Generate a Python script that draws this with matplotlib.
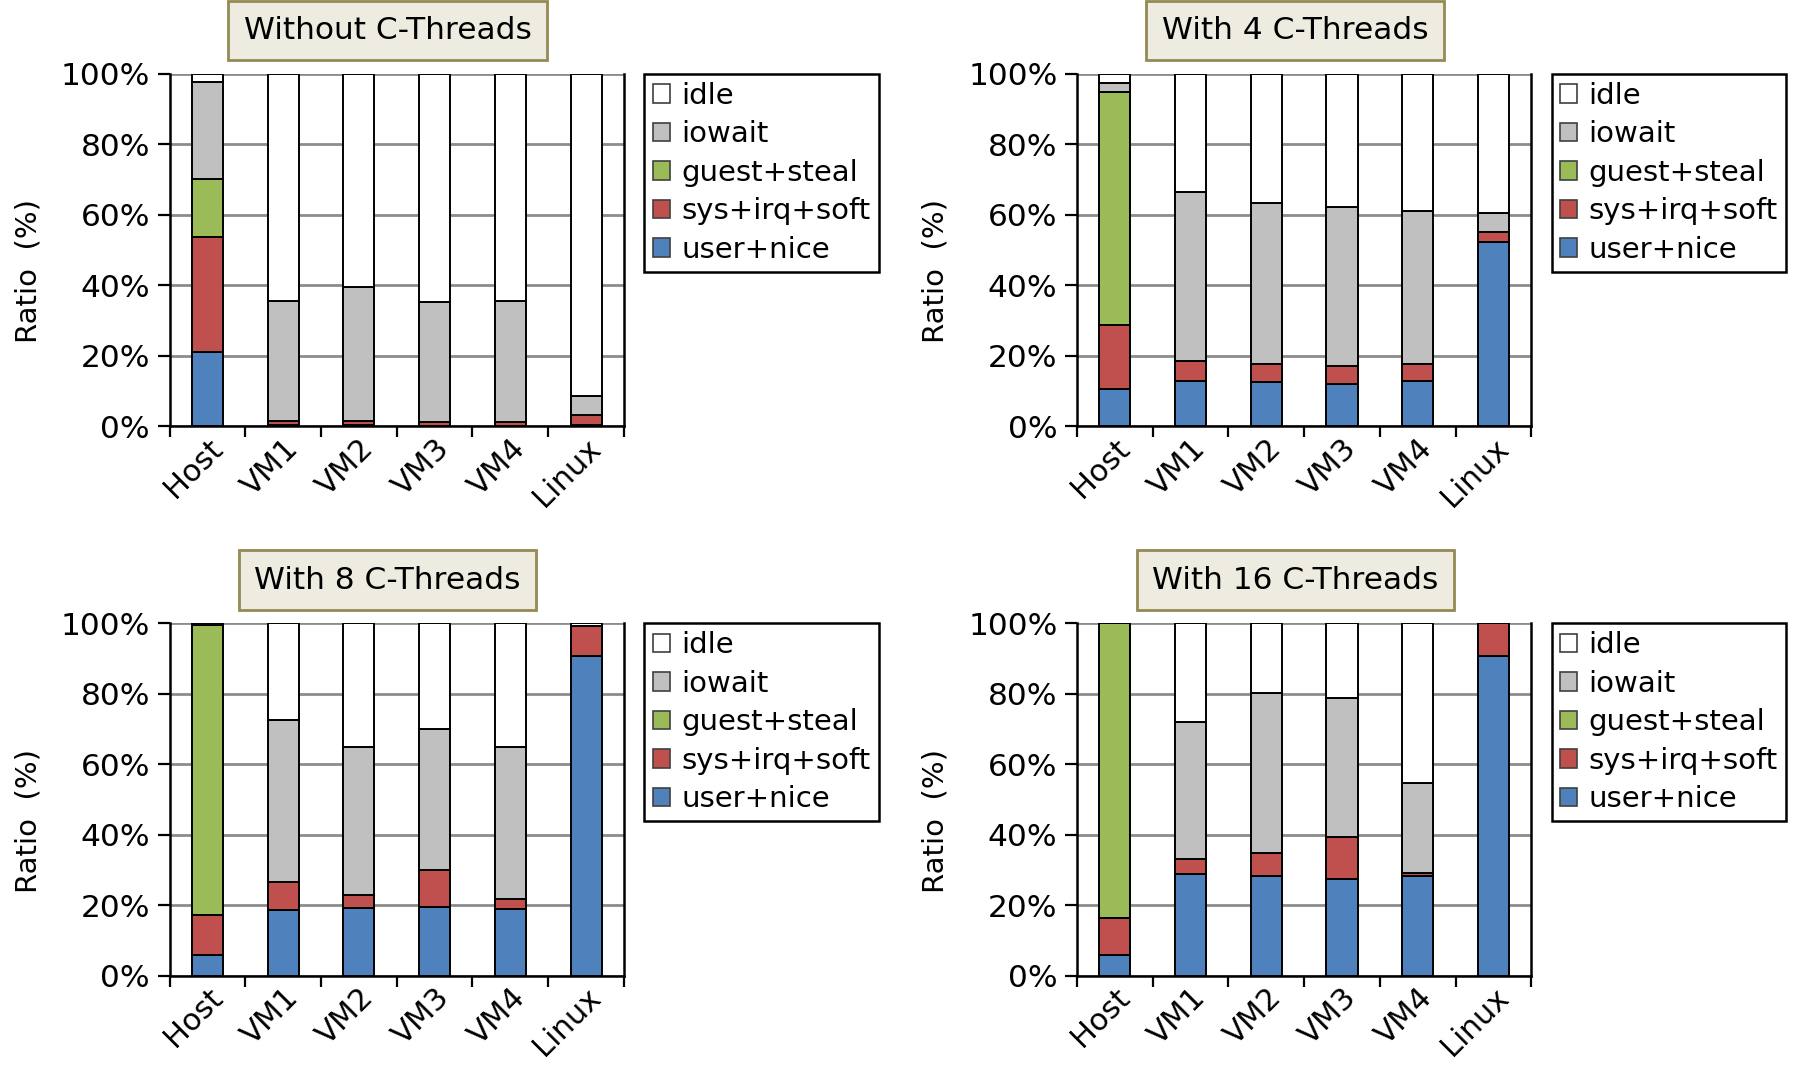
import numpy as np
import matplotlib
matplotlib.use("Agg")
import matplotlib.pyplot as plt
from matplotlib.patches import Patch
from matplotlib.transforms import ScaledTranslation

# ---------- data (percent of CPU time) ----------
categories = ["Host", "VM1", "VM2", "VM3", "VM4", "Linux"]
titles = ["Without C-Threads", "With 4 C-Threads", "With 8 C-Threads", "With 16 C-Threads"]
series_names = ["user+nice", "sys+irq+soft", "guest+steal", "iowait", "idle"]

# without C-Threads
user_0 = [21.1, 0.3, 0.3, 0.2, 0.2, 0.3]
sys_0 = [32.5, 1.1, 1.3, 1.0, 1.0, 2.8]
guest_0 = [16.4, 0, 0, 0, 0, 0]
iowait_0 = [27.6, 34.2, 37.8, 34.0, 34.2, 5.6]
idle_0 = [2.4, 64.4, 60.6, 64.8, 64.6, 91.3]

# with 4 C-Threads
user_4 = [10.5, 12.8, 12.6, 12.1, 12.9, 52.3]
sys_4 = [18.1, 5.8, 5.0, 5.1, 4.7, 2.8]
guest_4 = [66.1, 0, 0, 0, 0, 0]
iowait_4 = [2.5, 47.7, 45.8, 45.0, 43.5, 5.5]
idle_4 = [2.8, 33.7, 36.6, 37.8, 38.9, 39.4]

# with 8 C-Threads
user_8 = [5.9, 18.7, 19.3, 19.4, 19.0, 90.8]
sys_8 = [11.4, 7.8, 3.5, 10.6, 2.7, 8.5]
guest_8 = [82.2, 0, 0, 0, 0, 0]
iowait_8 = [0, 46.1, 42.2, 39.9, 43.3, 0]
idle_8 = [0.5, 27.4, 35.0, 30.1, 35.0, 0.7]

# with 16 C-Threads
user_16 = [6.0, 28.8, 28.4, 27.5, 28.2, 90.7]
sys_16 = [10.5, 4.3, 6.3, 11.8, 0.9, 9.3]
guest_16 = [83.5, 0, 0, 0, 0, 0]
iowait_16 = [0, 38.9, 45.6, 39.6, 25.7, 0]
idle_16 = [0, 28.0, 19.7, 21.1, 45.2, 0]

panels = [
    [user_0, sys_0, guest_0, iowait_0, idle_0],
    [user_4, sys_4, guest_4, iowait_4, idle_4],
    [user_8, sys_8, guest_8, iowait_8, idle_8],
    [user_16, sys_16, guest_16, iowait_16, idle_16],
]

colors = ["#4F81BD", "#C0504D", "#9BBB59", "#C0C0C0", "#FFFFFF"]

plt.rcParams["font.family"] = "DejaVu Sans"

fig = plt.figure(figsize=(17.94, 10.66), dpi=100)
axes_rects = [
    [0.0945, 0.600, 0.2533, 0.331],
    [0.6003, 0.600, 0.2533, 0.331],
    [0.0945, 0.0845, 0.2533, 0.331],
    [0.6003, 0.0845, 0.2533, 0.331],
]

x = np.arange(len(categories)) + 0.5
shift = ScaledTranslation(-16 / 100, 0, fig.dpi_scale_trans)
for rect, data, title in zip(axes_rects, panels, titles):
    ax = fig.add_axes(rect)
    bottom = np.zeros(len(categories))
    for vals, c in zip(data, colors):
        vals = np.array(vals, dtype=float)
        ax.bar(x, vals, width=0.41, bottom=bottom, color=c, edgecolor="black",
               linewidth=1.4, zorder=3)
        bottom += vals
    ax.set_xlim(0, len(categories))
    ax.set_ylim(0, 100)
    ax.set_yticks(range(0, 101, 20))
    ax.set_yticklabels([f"{v}%" for v in range(0, 101, 20)], fontsize=22.5)
    ax.yaxis.grid(True, color="#8C8C8C", linewidth=2, zorder=0)
    ax.set_axisbelow(True)
    ax.set_xticks(x)
    ax.set_xticklabels(categories, rotation=45, ha="right", rotation_mode="anchor",
                       fontsize=22)
    for lbl in ax.get_xticklabels():
        lbl.set_transform(lbl.get_transform() + shift)
    ax.set_xticks(np.arange(len(categories) + 1), minor=True)
    ax.tick_params(axis="x", which="major", length=0, pad=5)
    ax.tick_params(axis="x", which="minor", length=8, width=1.6, direction="out")
    ax.tick_params(axis="y", length=9, width=1.6, direction="out", pad=5)
    ax.spines["top"].set_visible(False)
    for s in ["left", "right", "bottom"]:
        ax.spines[s].set_linewidth(1.8)
    ax.set_ylabel("Ratio  (%)", fontsize=21)
    ax.yaxis.set_label_coords(-0.28, 0.44)

    handles = [Patch(facecolor=c, edgecolor="#404040", linewidth=1.2)
               for c in colors[::-1]]
    leg = ax.legend(handles, series_names[::-1], loc="upper left",
                    bbox_to_anchor=(1.045, 1.0), borderaxespad=0, fancybox=False,
                    edgecolor="black", framealpha=1, handlelength=0.6,
                    handleheight=0.6, handletextpad=0.38, labelspacing=0.36,
                    borderpad=0.28, prop=dict(size=21))
    leg.get_frame().set_linewidth(1.8)

    ax.text(0.48, 1.122, title, transform=ax.transAxes, ha="center", va="center",
            fontsize=22.5,
            bbox=dict(boxstyle="square,pad=0.49", facecolor="#EEECE1",
                      edgecolor="#948A54", linewidth=2))

fig.savefig("out.png", dpi=100)
